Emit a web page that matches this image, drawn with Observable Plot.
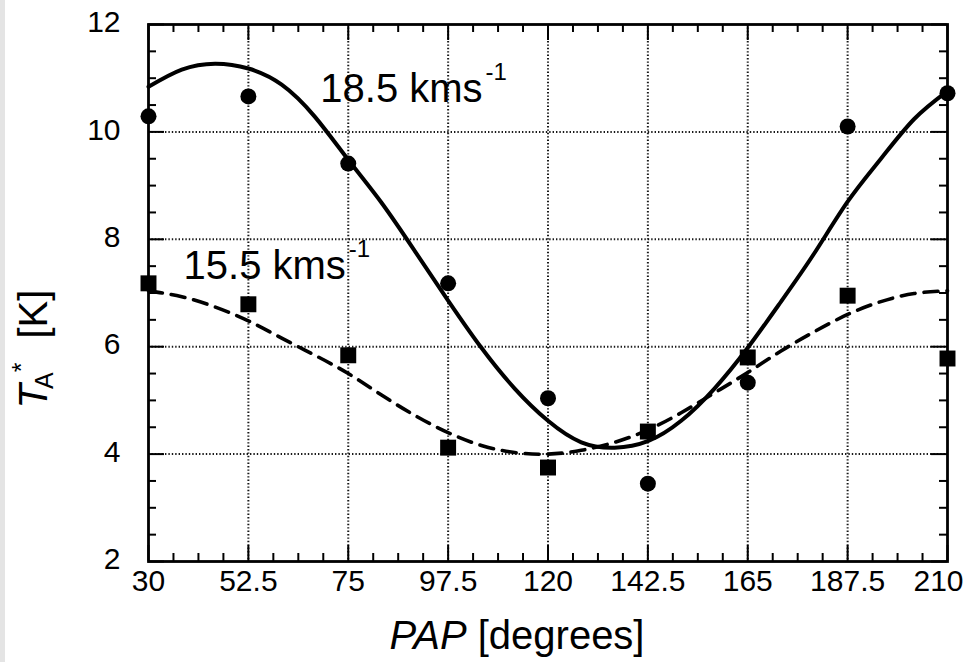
<!DOCTYPE html>
<html>
<head>
<meta charset="utf-8">
<script src="https://cdn.jsdelivr.net/npm/d3@7"></script>
<script src="https://cdn.jsdelivr.net/npm/@observablehq/plot@0.6"></script>
<style>
  html, body { margin: 0; padding: 0; background: #fff; }
  #chart { position: relative; width: 970px; height: 662px; overflow: hidden; background: #fff; }
  #chart::before { content: ""; position: absolute; left: 0; top: 0; bottom: 0; width: 5px; background: #e4e4e4; }
  #chart svg { display: block; }
</style>
</head>
<body>
<div id="chart"></div>
<script>
// Position angle (degrees) of the observed spectra
const pap = [30, 52.5, 75, 97.5, 120, 142.5, 165, 187.5, 210];

// Antenna temperature T_A* [K] at each position angle
const ta185 = [10.29, 10.66, 9.41, 7.18, 5.04, 3.45, 5.33, 10.10, 10.72]; // 18.5 km/s (circles)
const ta155 = [7.18, 6.79, 5.84, 4.12, 3.75, 4.42, 5.80, 6.95, 5.78];     // 15.5 km/s (squares)

// Fitted curves, sampled along position angle
const fitPap = [30, 37.5, 45, 52.5, 60, 67.5, 75, 82.5, 90, 97.5, 105, 112.5, 120,
                127.5, 135, 142.5, 150, 157.5, 165, 172.5, 180, 187.5, 195, 202.5, 210];
const fit185 = [10.84, 11.16, 11.27, 11.18, 10.88, 10.28, 9.48, 8.68, 7.78, 6.86, 5.98, 5.22, 4.62,
                4.22, 4.12, 4.24, 4.62, 5.22, 5.98, 6.84, 7.74, 8.70, 9.50, 10.24, 10.76];
const fit155 = [7.04, 6.93, 6.74, 6.48, 6.16, 5.84, 5.50, 5.10, 4.72, 4.40, 4.16, 4.03, 4.00,
                4.07, 4.22, 4.45, 4.77, 5.14, 5.52, 5.92, 6.28, 6.60, 6.84, 6.99, 7.04];

// Axis ticks
const xTicks = [30, 52.5, 75, 97.5, 120, 142.5, 165, 187.5, 210];
const yTicks = [2, 4, 6, 8, 10, 12];
const xMinorStep = 5.625;
const yMinorStep = 0.5;

// Curve labels
const labelText = ["18.5 kms", "15.5 kms"];
const labelX = [68.7, 37.9];
const labelY = [10.55, 7.27];
const labelSup = ["-1", "-1"];

const W = 970, H = 662;
const mL = 148, mR = 23, mT = 24, mB = 101;
const innerW = W - mL - mR, innerH = H - mT - mB;

const points185 = pap.map((p, i) => ({pap: p, ta: ta185[i]}));
const points155 = pap.map((p, i) => ({pap: p, ta: ta155[i]}));
const curve185 = fitPap.map((p, i) => ({pap: p, ta: fit185[i]}));
const curve155 = fitPap.map((p, i) => ({pap: p, ta: fit155[i]}));
const labels = labelText.map((t, i) => ({x: labelX[i], y: labelY[i], text: t}));

const xMinor = d3.range(30, 210 + 1e-9, xMinorStep).filter(v => !xTicks.some(t => Math.abs(t - v) < 1e-6));
const yMinor = d3.range(2, 12 + 1e-9, yMinorStep).filter(v => !yTicks.some(t => Math.abs(t - v) < 1e-6));

const ink = "#000";
const gridStyle = {stroke: "#000", strokeWidth: 2, strokeDasharray: "1.4,2", strokeOpacity: 0.9};
const tickStyle = {stroke: ink, strokeWidth: 2};
const majorLen = 16, minorLen = 8;
const tickFont = 30;

const plot = Plot.plot({
  width: W,
  height: H,
  marginLeft: mL,
  marginRight: mR,
  marginTop: mT,
  marginBottom: mB,
  style: {fontFamily: "'Liberation Sans', Arial, Helvetica, sans-serif", background: "#fff", color: ink},
  x: {domain: [30, 210]},
  y: {domain: [2, 12]},
  marks: [
    // dotted grid
    Plot.ruleX(xTicks.slice(1, -1), gridStyle),
    Plot.ruleY(yTicks.slice(1, -1), gridStyle),
    // inward ticks on all four sides
    Plot.ruleX(xTicks, {...tickStyle, insetTop: innerH - majorLen}),
    Plot.ruleX(xTicks, {...tickStyle, insetBottom: innerH - majorLen}),
    Plot.ruleX(xMinor, {...tickStyle, insetTop: innerH - minorLen}),
    Plot.ruleX(xMinor, {...tickStyle, insetBottom: innerH - minorLen}),
    Plot.ruleY(yTicks, {...tickStyle, insetRight: innerW - majorLen}),
    Plot.ruleY(yTicks, {...tickStyle, insetLeft: innerW - majorLen}),
    Plot.ruleY(yMinor, {...tickStyle, insetRight: innerW - minorLen}),
    Plot.ruleY(yMinor, {...tickStyle, insetLeft: innerW - minorLen}),
    Plot.frame({stroke: ink, strokeWidth: 2.8}),
    // fitted curves
    Plot.line(curve185, {x: "pap", y: "ta", curve: "natural", stroke: ink, strokeWidth: 4}),
    Plot.line(curve155, {x: "pap", y: "ta", curve: "natural", stroke: ink, strokeWidth: 3.6, strokeDasharray: "14,9"}),
    // observations
    Plot.dot(points185, {x: "pap", y: "ta", r: 8, fill: ink, stroke: null, symbol: "circle"}),
    Plot.dot(points155, {x: "pap", y: "ta", r: 9, fill: ink, stroke: null, symbol: "square"}),
    // curve labels
    Plot.text(labels, {x: "x", y: "y", text: "text", textAnchor: "start", lineAnchor: "bottom",
                       fontSize: 40, fill: ink, className: "vel-label"}),
    // axes (the last x label is nudged in so it stays inside the page)
    Plot.axisX({ticks: xTicks.slice(0, -1), tickSize: 0, tickPadding: 8, fontSize: tickFont,
                tickFormat: d => String(d), label: null}),
    Plot.axisX({ticks: xTicks.slice(-1), tickSize: 0, tickPadding: 8, fontSize: tickFont, dx: -9,
                tickFormat: d => String(d), label: null}),
    Plot.axisY({ticks: yTicks, tickSize: 0, tickPadding: 28, fontSize: tickFont, dy: -2,
                tickFormat: d => String(d), label: null})
  ]
});

document.getElementById("chart").appendChild(plot);

const svg = d3.select(plot);

// km s^-1 superscripts on the curve labels
svg.selectAll(".vel-label text").each(function (d, i) {
  d3.select(this).append("tspan")
    .attr("font-size", 24)
    .attr("dx", 3)
    .attr("dy", -22)
    .text(labelSup[i] ?? "-1");
});

// x-axis title
const xt = svg.append("text")
  .attr("x", 517)
  .attr("y", 649)
  .attr("text-anchor", "middle")
  .attr("font-size", 40)
  .attr("fill", ink);
xt.append("tspan").attr("font-style", "italic").text("PAP");
xt.append("tspan").text(" [degrees]");

// y-axis title: T_A^* [K]
const yt = svg.append("text")
  .attr("transform", "translate(47,349) rotate(-90)")
  .attr("font-size", 40)
  .attr("fill", ink);
yt.append("tspan").attr("font-style", "italic").text("T");
yt.append("tspan").attr("font-size", 25).attr("dx", -5).attr("dy", 6).text("A");
yt.append("tspan").attr("font-size", 25).attr("dx", 0).attr("dy", -23).text("*");
yt.append("tspan").attr("dx", 24).attr("dy", 17).text("[K]");
</script>
</body>
</html>
